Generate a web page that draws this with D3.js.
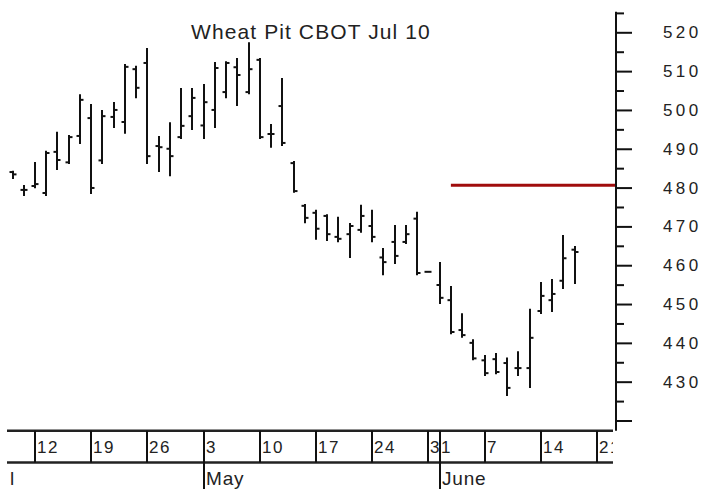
<!DOCTYPE html>
<html>
<head>
<meta charset="utf-8">
<script src="https://cdn.jsdelivr.net/npm/d3@7"></script>
<style>
  body { margin: 0; background: #fff; }
  svg { display: block; font-family: "Liberation Sans", Arial, sans-serif; }
</style>
</head>
<body>
<svg id="chart" width="703" height="489"></svg>
<script>
const title = 'Wheat Pit CBOT Jul 10';

// daily bars (May 31 is the Memorial Day placeholder)
const dates = [
  '2010-04-08', '2010-04-09',
  '2010-04-12', '2010-04-13', '2010-04-14', '2010-04-15', '2010-04-16',
  '2010-04-19', '2010-04-20', '2010-04-21', '2010-04-22', '2010-04-23',
  '2010-04-26', '2010-04-27', '2010-04-28', '2010-04-29', '2010-04-30',
  '2010-05-03', '2010-05-04', '2010-05-05', '2010-05-06', '2010-05-07',
  '2010-05-10', '2010-05-11', '2010-05-12', '2010-05-13', '2010-05-14',
  '2010-05-17', '2010-05-18', '2010-05-19', '2010-05-20', '2010-05-21',
  '2010-05-24', '2010-05-25', '2010-05-26', '2010-05-27', '2010-05-28',
  '2010-05-31', '2010-06-01', '2010-06-02', '2010-06-03', '2010-06-04',
  '2010-06-07', '2010-06-08', '2010-06-09', '2010-06-10', '2010-06-11',
  '2010-06-14', '2010-06-15', '2010-06-16', '2010-06-17'
];
const opens = [
  484.0, 479.4,
  480.4, 478.6, 489.2, 486.5, 493.3,
  497.9, 487.0, 498.2, 496.9, 510.5,
  512.1, 490.7, 490.0, 493.0, 498.4,
  496.0, 500.0, 504.6, 511.0, 504.6,
  512.9, 493.8, 501.0, 486.3, 475.3,
  473.5, 472.7, 467.3, 468.0, 469.1,
  470.1, 462.0, 466.0, 466.0, 472.0,
  458.3, 454.9, 451.0, 443.3, 440.0,
  435.5, 435.8, 434.8, 433.5, 433.5,
  448.2, 451.0, 456.0, 464.0
];
const highs = [
  484.1, 480.4,
  486.3, 489.2, 494.1, 493.3, 503.8,
  501.3, 499.7, 501.8, 511.6, 511.1,
  515.7, 493.0, 496.6, 505.4, 505.4,
  506.4, 512.1, 512.3, 513.1, 517.2,
  513.1, 496.1, 508.0, 486.6, 475.5,
  474.0, 472.9, 472.2, 470.6, 475.3,
  474.0, 464.2, 470.1, 470.1, 473.5,
  458.3, 460.6, 454.4, 447.4, 440.7,
  436.6, 437.1, 436.0, 437.6, 448.5,
  455.4, 456.2, 467.5, 464.7
];
const lows = [
  482.5, 478.1,
  480.1, 478.1, 484.8, 486.3, 491.5,
  478.6, 486.3, 495.6, 494.1, 503.3,
  486.3, 484.3, 483.2, 492.8, 495.1,
  492.8, 495.6, 503.3, 501.3, 504.3,
  492.8, 490.5, 491.0, 478.9, 471.1,
  466.8, 466.5, 466.2, 462.1, 468.6,
  466.2, 457.7, 460.6, 465.7, 457.7,
  458.3, 450.3, 442.5, 441.6, 435.8,
  431.7, 432.2, 426.6, 431.7, 428.6,
  447.7, 448.2, 454.1, 455.4
];
const closes = [
  483.4, 479.4,
  480.9, 488.9, 487.1, 493.0, 502.6,
  479.9, 498.4, 500.0, 511.1, 505.7,
  488.1, 490.4, 488.1, 495.9, 503.1,
  502.0, 510.8, 512.1, 509.0, 510.5,
  493.0, 493.8, 491.5, 479.1, 472.2,
  469.4, 468.0, 466.8, 470.1, 472.7,
  467.3, 460.8, 462.4, 468.0, 458.0,
  458.3, 451.6, 442.8, 442.0, 436.0,
  432.2, 432.5, 428.4, 433.5, 441.3,
  452.1, 452.6, 461.8, 463.4
];

// horizontal level drawn from June 2 to the price axis
const levelPrice = 480.6;
const levelStart = '2010-06-02';

// time axis
const weekStarts = [
  '2010-04-12', '2010-04-19', '2010-04-26', '2010-05-03', '2010-05-10', '2010-05-17',
  '2010-05-24', '2010-05-31', '2010-06-07', '2010-06-14', '2010-06-21'
];
const weekLabels = ['12', '19', '26', '3', '10', '17', '24', '31', '7', '14', '21'];
const monthStarts = ['2010-05-03', '2010-06-01'];
const monthLabels = ['May', 'June'];

// price axis
const yMajor = [420, 430, 440, 450, 460, 470, 480, 490, 500, 510, 520];
const yLabels = ['', '430', '440', '450', '460', '470', '480', '490', '500', '510', '520'];
const yMinor = [425, 435, 445, 455, 465, 475, 485, 495, 505, 515, 525];

const parse = d3.utcParse('%Y-%m-%d');
const origin = parse('2010-04-05');
const axisX = 616;
const bandTop = 430.7;
const bandBottom = 462.5;
const bandLeft = 7;
const bandRight = 613;
const ink = '#111';
const textInk = '#222';

// weekday slot, so weekends take no room
function slot(s) {
  const d = parse(s);
  return d3.utcMonday.count(origin, d) * 5 + (d.getUTCDay() - 1);
}

const x = d3.scaleLinear()
  .domain([slot('2010-04-12'), slot('2010-06-21')])
  .range([35, 597])
  ;
const y = d3.scaleLinear()
  .domain([420, 520])
  .range([420.5, 32.3])
  ;

const svg = d3.select('#chart');

svg.append('rect')
  .attr('width', 703)
  .attr('height', 489)
  .attr('fill', '#fff')
  ;

// title
svg.append('text')
  .attr('x', 191)
  .attr('y', 39)
  .attr('font-size', 21)
  .attr('letter-spacing', 1.1)
  .attr('fill', textInk)
  .text(title)
  ;

// level line
svg.append('line')
  .attr('x1', x(slot(levelStart)))
  .attr('x2', axisX)
  .attr('y1', y(levelPrice))
  .attr('y2', y(levelPrice))
  .attr('stroke', '#a00c0c')
  .attr('stroke-width', 3)
  ;

// OHLC bars
const bars = svg.append('g')
  .attr('stroke', ink)
  .attr('stroke-width', 2)
  .selectAll('g')
  .data(dates.map((d, i) => ({ date: d, o: opens[i], h: highs[i], l: lows[i], c: closes[i] })))
  .join('g')
  .attr('transform', d => `translate(${Math.round(x(slot(d.date)))},0)`)
  ;

bars.filter(d => d.h > d.l)
  .append('line')
  .attr('y1', d => y(d.h) - 1)
  .attr('y2', d => y(d.l) + 1)
  ;
bars.append('line')
  .attr('x1', -3.5)
  .attr('x2', 0)
  .attr('y1', d => y(d.o))
  .attr('y2', d => y(d.o))
  ;
bars.append('line')
  .attr('x1', 0)
  .attr('x2', 3.5)
  .attr('y1', d => y(d.c))
  .attr('y2', d => y(d.c))
  ;

// price axis on the right
svg.append('line')
  .attr('x1', axisX)
  .attr('x2', axisX)
  .attr('y1', y(525.3))
  .attr('y2', bandTop)
  .attr('stroke', ink)
  .attr('stroke-width', 2)
  ;

const yAxis = svg.append('g')
  .attr('transform', `translate(${axisX},0)`)
  .call(d3.axisRight(y)
    .tickValues(yMajor)
    .tickSize(16)
    .tickPadding(31)
    .tickFormat((d, i) => yLabels[i]))
  ;
yAxis.select('.domain').remove();
yAxis.selectAll('line').attr('stroke', ink).attr('stroke-width', 2);
yAxis.selectAll('text')
  .attr('font-size', 17)
  .attr('letter-spacing', 3.4)
  .attr('fill', textInk)
  .attr('font-family', '"Liberation Sans", Arial, sans-serif')
  ;

const yMinorAxis = svg.append('g')
  .attr('transform', `translate(${axisX},0)`)
  .call(d3.axisRight(y).tickValues(yMinor).tickSize(8).tickFormat(''))
  ;
yMinorAxis.select('.domain').remove();
yMinorAxis.selectAll('line').attr('stroke', ink).attr('stroke-width', 2);

// date band at the bottom
svg.append('clipPath')
  .attr('id', 'band-clip')
  .append('rect')
  .attr('x', bandLeft)
  .attr('y', bandTop)
  .attr('width', bandRight - bandLeft)
  .attr('height', 60)
  ;

const band = svg.append('g');

band.selectAll('line.edge')
  .data([bandTop, bandBottom])
  .join('line')
  .attr('class', 'edge')
  .attr('x1', bandLeft)
  .attr('x2', bandRight)
  .attr('y1', d => d)
  .attr('y2', d => d)
  .attr('stroke', '#222')
  .attr('stroke-width', 2.4)
  ;

band.selectAll('line.week')
  .data(weekStarts)
  .join('line')
  .attr('class', 'week')
  .attr('x1', d => Math.round(x(slot(d))))
  .attr('x2', d => Math.round(x(slot(d))))
  .attr('y1', bandTop)
  .attr('y2', d => (monthStarts.includes(d) ? 489 : bandBottom))
  .attr('stroke', ink)
  .attr('stroke-width', 2)
  ;

band.append('g')
  .attr('clip-path', 'url(#band-clip)')
  .selectAll('text')
  .data(weekStarts)
  .join('text')
  .attr('x', d => Math.round(x(slot(d))) + 2)
  .attr('y', 452.5)
  .attr('font-size', 17)
  .attr('letter-spacing', 1.5)
  .attr('fill', textInk)
  .text((d, i) => weekLabels[i])
  ;

band.selectAll('line.month')
  .data(monthStarts.filter(d => !weekStarts.includes(d)))
  .join('line')
  .attr('class', 'month')
  .attr('x1', d => Math.round(x(slot(d))))
  .attr('x2', d => Math.round(x(slot(d))))
  .attr('y1', bandTop)
  .attr('y2', 489)
  .attr('stroke', ink)
  .attr('stroke-width', 2)
  ;

band.selectAll('text.month')
  .data(monthStarts)
  .join('text')
  .attr('class', 'month')
  .attr('x', d => Math.round(x(slot(d))) + 2)
  .attr('y', 485)
  .attr('font-size', 19)
  .attr('letter-spacing', 0.8)
  .attr('fill', textInk)
  .text((d, i) => monthLabels[i])
  ;

// tail of the previous month label
band.append('text')
  .attr('x', 10)
  .attr('y', 485)
  .attr('font-size', 19)
  .attr('fill', textInk)
  .text('l')
  ;
</script>
</body>
</html>
